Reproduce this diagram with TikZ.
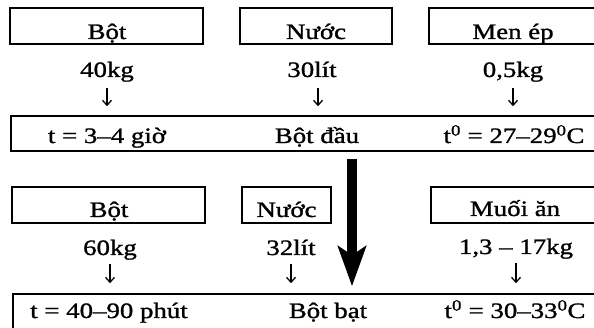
\documentclass[tikz,border=0pt]{standalone}
\usepackage{fontspec}
\setmainfont{Liberation Serif}[FakeStretch=1.22,FakeBold=1.2]
\usetikzlibrary{arrows.meta}
\tikzset{
  box/.style={draw, line width=1.5pt, inner sep=0pt, anchor=center},
  txt/.style={inner sep=0pt, anchor=base, text height=15pt, text depth=5pt, font=\fontsize{22}{25}\selectfont},
  thinarr/.style={line width=1.3pt, -{Straight Barb[length=5pt,width=9pt,line width=1.3pt]}},
  bigarrow/.style={line width=10pt, -{Stealth[length=40pt,width=28pt,inset=9pt]}},
}
\begin{document}
\begin{tikzpicture}[x=1pt,y=-1pt]
\useasboundingbox (0,0) rectangle (594,328);
% row 1 boxes
\node[box, minimum width=193pt, minimum height=36pt] (b1) at (106.5,26) {};
\node[box, minimum width=152pt, minimum height=36pt] (n1) at (316,26) {};
\node[box, minimum width=171pt, minimum height=36pt] (m1) at (514.5,26) {};
\node[txt] (b1t) at (107,39) {Bột};
\node[txt] (n1t) at (316,39) {Nước};
\node[txt] (m1t) at (513,39) {Men ép};
% row 1 quantities
\node[txt] (q1) at (107,77) {40kg};
\node[txt] (q2) at (312,77) {30lít};
\node[txt] (q3) at (513,77) {0,5kg};
% long box 1
\node[box, minimum width=589pt, minimum height=35pt] (l1) at (305.5,133.5) {};
\node[txt] (l1a) at (107,143) {t = 3–4 giờ};
\node[txt] (l1b) at (317,143) {Bột đầu};
\node[txt] (l1c) at (514,143) {t\textsuperscript{0} = 27–29\textsuperscript{0}C};
% arrows row 1
\draw[thinarr, shorten <=6pt, shorten >=9pt] (q1.south) -- (q1.south |- l1.north);
\draw[thinarr, shorten <=6pt, shorten >=9pt] ([xshift=6pt]q2.south) -- ([xshift=6pt]q2.south |- l1.north);
\draw[thinarr, shorten <=6pt, shorten >=9pt] (q3.south) -- (q3.south |- l1.north);
% row 2 boxes
\node[box, minimum width=193pt, minimum height=36pt] (b2) at (108.5,205) {};
\node[box, minimum width=89pt, minimum height=36pt] (n2) at (286.5,205) {};
\node[box, minimum width=169pt, minimum height=36pt] (m2) at (515.5,205) {};
\node[txt] (b2t) at (109,217) {Bột};
\node[txt] (n2t) at (286.5,217) {Nước};
\node[txt] (m2t) at (515,216) {Muối ăn};
% row 2 quantities
\node[txt] (r1) at (110,255) {60kg};
\node[txt] (r2) at (291,255) {32lít};
\node[txt] (r3) at (516,254) {1,3 – 17kg};
% bottom box
\node[box, minimum width=587pt, minimum height=38pt] (l2) at (306.5,313) {};
\node[txt] (l2a) at (109,318) {t = 40–90 phút};
\node[txt] (l2b) at (328,318) {Bột bạt};
\node[txt] (l2c) at (515,318) {t\textsuperscript{0} = 30–33\textsuperscript{0}C};
% arrows row 2
\draw[thinarr, shorten <=4pt, shorten >=10pt] (r1.south) -- (r1.south |- l2.north);
\draw[thinarr, shorten <=4pt, shorten >=10pt] (r2.south) -- (r2.south |- l2.north);
\draw[thinarr, shorten <=4pt, shorten >=10pt] (r3.south) -- (r3.south |- l2.north);
% big arrow
\coordinate (bx) at (352,0);
\draw[bigarrow, shorten <=7pt, shorten >=7pt] (l1.south -| bx) -- (l2.north -| bx);
\end{tikzpicture}
\end{document}
